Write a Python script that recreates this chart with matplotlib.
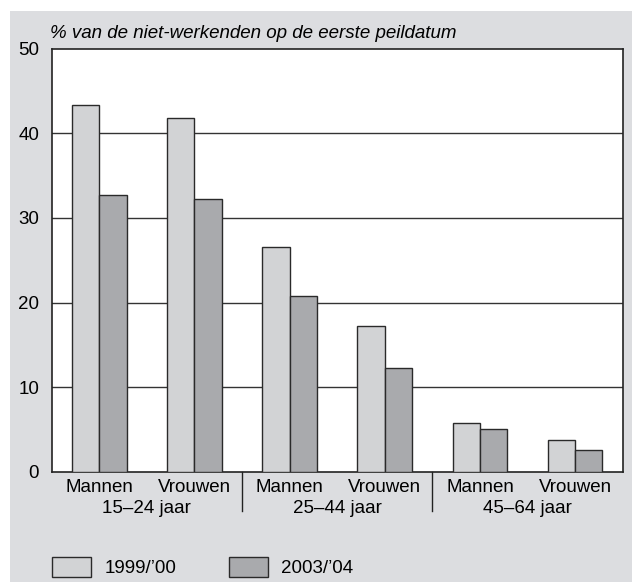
import matplotlib
matplotlib.use("Agg")
import matplotlib.pyplot as plt
from matplotlib.patches import Rectangle
import numpy as np

plt.rcParams['font.family'] = ['Liberation Sans', 'DejaVu Sans']

# data
geslacht = ["Mannen", "Vrouwen", "Mannen", "Vrouwen", "Mannen", "Vrouwen"]
leeftijd = ["15\u201324 jaar", "25\u201344 jaar", "45\u201364 jaar"]
jaren = ["1999/\u201900", "2003/\u201904"]
v1999 = [43.4, 41.8, 26.6, 17.2, 5.8, 3.75]
v2003 = [32.7, 32.2, 20.8, 12.3, 5.05, 2.6]

c1999 = "#d2d3d5"
c2003 = "#a9aaad"
bg = "#dcdde0"
fs = 13.5

W, H = 632, 582
fig = plt.figure(figsize=(W/100, H/100), dpi=100)
fig.patch.set_facecolor("white")
fig.patches.append(Rectangle((10/W, 0), 1 - 10/W, (H-11)/H, transform=fig.transFigure,
                             facecolor=bg, edgecolor="none", zorder=-10))

ax = fig.add_axes([51.7/W, (H-471.7)/H, 571/W, 423/H])
ax.set_facecolor("white")

x = np.arange(len(geslacht))
bw = 0.287
b1 = ax.bar(x - bw/2, v1999, bw, color=c1999, edgecolor="#2a2a2a", linewidth=1, zorder=3, label=jaren[0])
b2 = ax.bar(x + bw/2, v2003, bw, color=c2003, edgecolor="#2a2a2a", linewidth=1, zorder=3, label=jaren[1])

ax.set_xlim(-0.5, 5.5)
ax.set_ylim(0, 50)
ax.set_yticks([0, 10, 20, 30, 40, 50])
ax.set_xticks([])
ax.tick_params(axis="y", length=0, pad=9, labelsize=fs)
for yv in [10, 20, 30, 40]:
    ax.axhline(yv, color="#333333", lw=1, zorder=1)
for s in ax.spines.values():
    s.set_color("#222222")
    s.set_linewidth(1.2)

tr = ax.get_xaxis_transform()
for i, lab in enumerate(geslacht):
    ax.text(x[i], -0.0487, lab, transform=tr, ha="center", va="baseline", fontsize=fs)
for j, lab in enumerate(leeftijd):
    ax.text(2*j + 0.5, -0.0983, lab, transform=tr, ha="center", va="baseline", fontsize=fs)
for xs in [1.5, 3.5]:
    ax.plot([xs, xs], [0, -0.0922], transform=tr, color="#222222", lw=1, clip_on=False)

fig.text(50/W, (H-38.3)/H, "% van de niet-werkenden op de eerste peildatum",
         fontsize=fs, style="italic", ha="left", va="baseline")

fig.legend(handles=[b1, b2], labels=jaren, loc="lower left",
           bbox_to_anchor=(51.7/W, (H-577)/H), ncol=2, frameon=False,
           fontsize=fs, handlelength=2.1, handleheight=1.25, handletextpad=0.7,
           columnspacing=2.8, borderpad=0, borderaxespad=0)

fig.savefig("out.png", dpi=100, facecolor=fig.get_facecolor())
